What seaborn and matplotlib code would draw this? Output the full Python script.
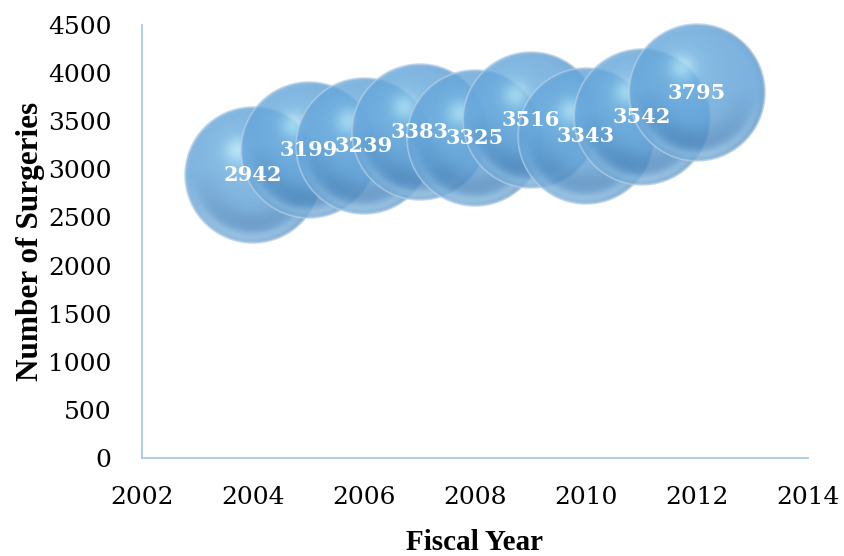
import numpy as np
import pandas as pd
import matplotlib
matplotlib.use("Agg")
import matplotlib.pyplot as plt
import seaborn as sns
from matplotlib.offsetbox import OffsetImage, AnnotationBbox

# Surgeries performed per fiscal year
years = [2004, 2005, 2006, 2007, 2008, 2009, 2010, 2011, 2012]
surgeries = [2942, 3199, 3239, 3383, 3325, 3516, 3343, 3542, 3795]

x_ticks = [2002, 2004, 2006, 2008, 2010, 2012, 2014]
y_ticks = [0, 500, 1000, 1500, 2000, 2500, 3000, 3500, 4000, 4500]

df = pd.DataFrame({"Fiscal Year": years, "Number of Surgeries": surgeries})

sns.set_theme(style="white")
plt.rcParams["font.family"] = ["DejaVu Serif"]

AXIS_COLOR = "#a9c8e6"
BUBBLE_PX = 138          # bubble diameter in pixels
DPI = 100


def glossy_sphere(n):
    """RGBA image of a semi-transparent glossy blue sphere."""
    c = (np.arange(n) + 0.5) / n * 2 - 1
    u, v = np.meshgrid(c, -c)
    r = np.hypot(u, v)

    def mix(a, b, t):
        return a + (np.asarray(b) / 255.0 - a) * t[..., None]

    rgb = np.empty((n, n, 3))
    rgb[:] = np.array([98, 162, 216]) / 255.0
    # soft glow in the upper half
    g = np.exp(-((u + 0.2) ** 2 + (v - 0.3) ** 2) / (2 * 0.45 ** 2)) * 0.35
    rgb = mix(rgb, [140, 205, 240], g)
    # specular highlight
    h = np.exp(-((u + 0.22) ** 2 + (v - 0.36) ** 2) / (2 * 0.13 ** 2)) * 0.7
    rgb = mix(rgb, [195, 245, 252], h)
    # darker crescent in the lower half
    d = np.exp(-((r - 0.68) / 0.2) ** 2) * np.clip(0.1 - v, 0, 1) * 0.55
    rgb = mix(rgb, [58, 108, 158], d)
    # reflected light close to the bottom rim
    w = np.exp(-((r - 0.9) / 0.08) ** 2) * np.clip(-v, 0, 1) * 0.6
    rgb = mix(rgb, [165, 202, 228], w)
    # slight shading along the right-hand rim
    e = np.clip((r - 0.84) / 0.13, 0, 1) ** 2 * np.clip(u + 0.3, 0, 1) * 0.3
    rgb = mix(rgb, [70, 115, 160], e)
    # pale outline
    o = np.clip((r - 0.962) / 0.025, 0, 1) * 0.8
    rgb = mix(rgb, [205, 218, 232], o)

    alpha = np.clip((1 - r) * n / 2, 0, 1) * 0.8
    return np.dstack([np.clip(rgb, 0, 1), alpha])


sphere_img = glossy_sphere(2 * BUBBLE_PX)

fig = plt.figure(figsize=(8.44, 5.56), dpi=DPI)
ax = fig.add_axes([142 / 844, 98 / 556, 666 / 844, 433 / 556])

marker_pt = BUBBLE_PX * 0.94 * 72 / DPI
for i, row in df.iterrows():
    z = 2 + 2 * i
    sns.scatterplot(x=[row["Fiscal Year"]], y=[row["Number of Surgeries"]],
                    s=marker_pt ** 2, color="#5b9bd5", alpha=0.15,
                    linewidth=0, ax=ax, zorder=z, clip_on=False, legend=False)
    ab = AnnotationBbox(OffsetImage(sphere_img, zoom=0.5, dpi_cor=False),
                        (row["Fiscal Year"], row["Number of Surgeries"]),
                        xycoords="data", frameon=False, pad=0,
                        box_alignment=(0.5, 0.5), zorder=z + 1)
    ax.add_artist(ab)

for x, y in zip(years, surgeries):
    ax.text(x, y, f"{y}", ha="center", va="center", color="white",
            fontsize=15, fontweight="bold", family="DejaVu Serif", zorder=100)

ax.set_xlim(2002, 2014)
ax.set_ylim(0, 4500)
ax.set_xticks(x_ticks)
ax.set_yticks(y_ticks)
ax.set_xticklabels([str(t) for t in x_ticks])
ax.set_yticklabels([str(t) for t in y_ticks])

sns.despine(ax=ax)
for side in ("left", "bottom"):
    ax.spines[side].set_color(AXIS_COLOR)
    ax.spines[side].set_linewidth(1.3)

ax.tick_params(axis="both", direction="in", length=6, width=1.2,
               color=AXIS_COLOR, labelsize=18, labelcolor="black")
ax.tick_params(axis="x", pad=20)
ax.tick_params(axis="y", pad=22)

ax.set_xlabel("Fiscal Year", fontsize=21, fontweight="bold",
              family="Liberation Serif", color="black")
ax.xaxis.label.set_va("baseline")
ax.xaxis.set_label_coords(0.5, (458 - 550) / 433)

ax.set_ylabel("Number of Surgeries", fontsize=22.5, fontweight="bold",
              family="Liberation Serif", color="black")
ax.yaxis.label.set_va("center")
ax.yaxis.set_label_coords((31 - 142) / 666, 0.5)

fig.savefig("out.png", dpi=DPI)
